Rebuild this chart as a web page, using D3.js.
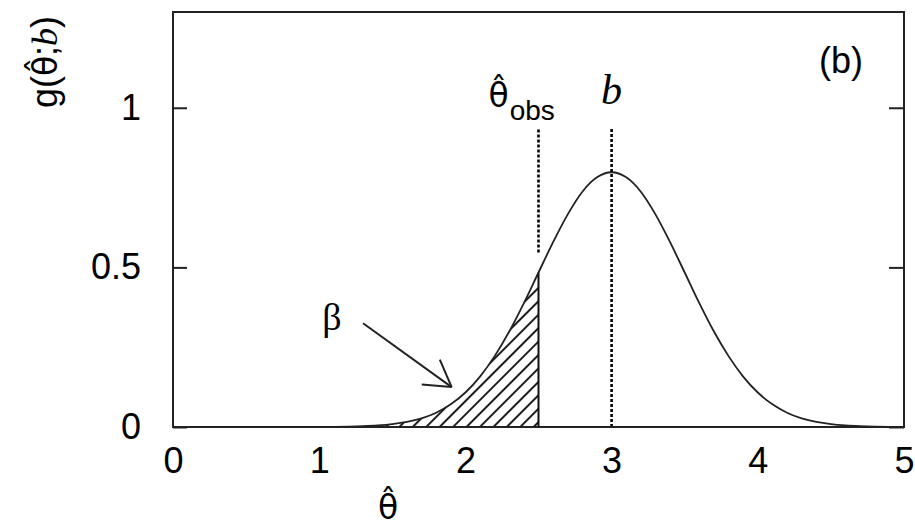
<!DOCTYPE html>
<html>
<head>
<meta charset="utf-8">
<script src="https://cdn.jsdelivr.net/npm/d3@7"></script>
<style>
  html, body { margin: 0; padding: 0; background: #fff; }
  svg { display: block; }
  .sans { font-family: "Liberation Sans", Arial, Helvetica, sans-serif; }
  .serif { font-family: "Liberation Serif", "Times New Roman", serif; }
  .hat { font-family: "DejaVu Sans", sans-serif; }
</style>
</head>
<body>
<script>
// Sampling density g(θ̂; b) against θ̂
const thetaX = [
  0.0, 0.2, 0.4, 0.6, 0.8, 1.0, 1.1, 1.2, 1.3, 1.4, 1.5, 1.6, 1.7, 1.8, 1.9,
  2.0, 2.1, 2.2, 2.3, 2.4, 2.5, 2.6, 2.7, 2.8, 2.9, 3.0,
  3.1, 3.2, 3.3, 3.4, 3.5, 3.6, 3.7, 3.8, 3.9, 4.0,
  4.1, 4.2, 4.3, 4.4, 4.5, 4.6, 4.7, 4.8, 4.9, 5.0
];
const gY = [
  0, 0, 0, 0, 0, 0.0003, 0.0006, 0.0012, 0.0025, 0.0048, 0.0089, 0.0158, 0.0271, 0.0448, 0.0710,
  0.108, 0.158, 0.222, 0.299, 0.388, 0.484, 0.579, 0.666, 0.737, 0.782, 0.798,
  0.782, 0.737, 0.666, 0.579, 0.484, 0.388, 0.299, 0.222, 0.158, 0.108,
  0.0710, 0.0448, 0.0271, 0.0158, 0.0089, 0.0048, 0.0025, 0.0012, 0.0006, 0.0003
];

const xTicks = [0, 1, 2, 3, 4, 5];
const yTicks = [0, 0.5, 1];
const yTickLabels = ["0", "0.5", "1"];

const thetaObs = 2.5;   // observed estimate
const bValue = 3;       // mean of the distribution
const hatchFrom = 1.0;  // start of the shaded tail

const thetaHat = "\u03B8\u0302";

const W = 915, H = 529;
const margin = { top: 12, right: 11, bottom: 102, left: 173 };

const x = d3.scaleLinear().domain([0, 5]).range([margin.left, W - margin.right]);
const y = d3.scaleLinear().domain([0, 1.3]).range([H - margin.bottom, margin.top]);

const svg = d3.select("body").append("svg").attr("width", W).attr("height", H);

// diagonal hatching for the tail area
const defs = svg.append("defs");
defs.append("pattern")
  .attr("id", "hatch")
  .attr("patternUnits", "userSpaceOnUse")
  .attr("width", 9.5).attr("height", 9.5)
  .attr("patternTransform", "rotate(45)")
  .append("line")
  .attr("x1", 4.75).attr("y1", 0).attr("x2", 4.75).attr("y2", 9.5)
  .attr("stroke", "#1a1a1a").attr("stroke-width", 2);

const pts = thetaX.map((t, i) => ({ t, g: gY[i] }));

// shaded tail below θ̂_obs
const tail = pts.filter(d => d.t >= hatchFrom && d.t <= thetaObs);
svg.append("path")
  .datum(tail)
  .attr("fill", "url(#hatch)")
  .attr("d", d3.area().x(d => x(d.t)).y0(y(0)).y1(d => y(d.g)).curve(d3.curveMonotoneX));

// vertical edge of the tail at θ̂_obs
const gObs = gY[thetaX.indexOf(thetaObs)];
svg.append("line")
  .attr("x1", x(thetaObs)).attr("x2", x(thetaObs))
  .attr("y1", y(0)).attr("y2", y(gObs))
  .attr("stroke", "#111").attr("stroke-width", 2);

// density curve
svg.append("path")
  .datum(pts)
  .attr("fill", "none")
  .attr("stroke", "#222")
  .attr("stroke-width", 1.8)
  .attr("d", d3.line().x(d => x(d.t)).y(d => y(d.g)).curve(d3.curveMonotoneX));

// dotted markers
svg.append("line")
  .attr("x1", x(thetaObs)).attr("x2", x(thetaObs))
  .attr("y1", y(0.547)).attr("y2", y(0.934))
  .attr("stroke", "#000").attr("stroke-width", 2.6).attr("stroke-dasharray", "3,2");
svg.append("line")
  .attr("x1", x(bValue)).attr("x2", x(bValue))
  .attr("y1", y(0)).attr("y2", y(0.934))
  .attr("stroke", "#000").attr("stroke-width", 2.6).attr("stroke-dasharray", "3,2");

// frame
svg.append("rect")
  .attr("x", margin.left).attr("y", margin.top)
  .attr("width", W - margin.left - margin.right)
  .attr("height", H - margin.top - margin.bottom)
  .attr("fill", "none").attr("stroke", "#222").attr("stroke-width", 2);

// y axis: inward ticks on both sides, labels on the left
const yAxisL = d3.axisLeft(y).tickValues(yTicks).tickSize(-14).tickPadding(32)
  .tickFormat((d, i) => yTickLabels[i]);
const gL = svg.append("g").attr("transform", `translate(${margin.left},0)`).call(yAxisL);
gL.select(".domain").remove();
gL.selectAll(".tick line").attr("stroke", "#222").attr("stroke-width", 2);
gL.selectAll(".tick text").attr("font-size", 36).attr("fill", "#000")
  .attr("font-family", "Liberation Sans, Arial, sans-serif");

const yAxisR = d3.axisRight(y).tickValues(yTicks).tickSize(-15).tickFormat("");
const gR = svg.append("g").attr("transform", `translate(${W - margin.right},0)`).call(yAxisR);
gR.select(".domain").remove();
gR.selectAll(".tick line").attr("stroke", "#222").attr("stroke-width", 2);

// x axis: labels only
const xAxis = d3.axisBottom(x).tickValues(xTicks).tickSize(0).tickPadding(20).tickFormat(d3.format("d"));
const gX = svg.append("g").attr("transform", `translate(0,${H - margin.bottom})`).call(xAxis);
gX.select(".domain").remove();
gX.selectAll(".tick text").attr("font-size", 36).attr("fill", "#000")
  .attr("font-family", "Liberation Sans, Arial, sans-serif");

// x axis title
svg.append("text")
  .attr("class", "hat")
  .attr("x", 388).attr("y", 519)
  .attr("text-anchor", "middle").attr("font-size", 33)
  .text(thetaHat);

// y axis title
const yt = svg.append("text")
  .attr("class", "sans")
  .attr("transform", "translate(57,62) rotate(-90)")
  .attr("text-anchor", "middle").attr("font-size", 36);
yt.append("tspan").text("g(");
yt.append("tspan").attr("class", "hat").attr("font-size", 33).text(thetaHat);
yt.append("tspan").text(";");
yt.append("tspan").attr("class", "serif").attr("font-style", "italic").text("b");
yt.append("tspan").text(")");

// panel tag
svg.append("text").attr("class", "sans")
  .attr("x", 841).attr("y", 73).attr("text-anchor", "middle").attr("font-size", 36)
  .text("(b)");

// marker labels
const tObs = svg.append("text").attr("class", "sans")
  .attr("x", x(thetaObs) - 50).attr("y", 107).attr("font-size", 36);
tObs.append("tspan").attr("class", "hat").attr("font-size", 33).text(thetaHat);
tObs.append("tspan").attr("font-size", 28).attr("dy", 13).attr("dx", 1).text("obs");

svg.append("text").attr("class", "serif")
  .attr("x", x(bValue)).attr("y", 104).attr("text-anchor", "middle")
  .attr("font-size", 42).attr("font-style", "italic")
  .text("b");

// β annotation with open arrow
svg.append("text").attr("class", "serif")
  .attr("x", 332).attr("y", 330).attr("text-anchor", "middle").attr("font-size", 38)
  .text("β");

const a0 = [x(1.30), y(0.325)], a1 = [x(1.906), y(0.125)];
svg.append("line")
  .attr("x1", a0[0]).attr("y1", a0[1]).attr("x2", a1[0]).attr("y2", a1[1])
  .attr("stroke", "#222").attr("stroke-width", 2);
const ang = Math.atan2(a0[1] - a1[1], a0[0] - a1[0]);
const headLen = 30, spread = 31 * Math.PI / 180;
[ang - spread, ang + spread].forEach(a => {
  svg.append("line")
    .attr("x1", a1[0]).attr("y1", a1[1])
    .attr("x2", a1[0] + headLen * Math.cos(a)).attr("y2", a1[1] + headLen * Math.sin(a))
    .attr("stroke", "#222").attr("stroke-width", 2);
});
</script>
</body>
</html>
